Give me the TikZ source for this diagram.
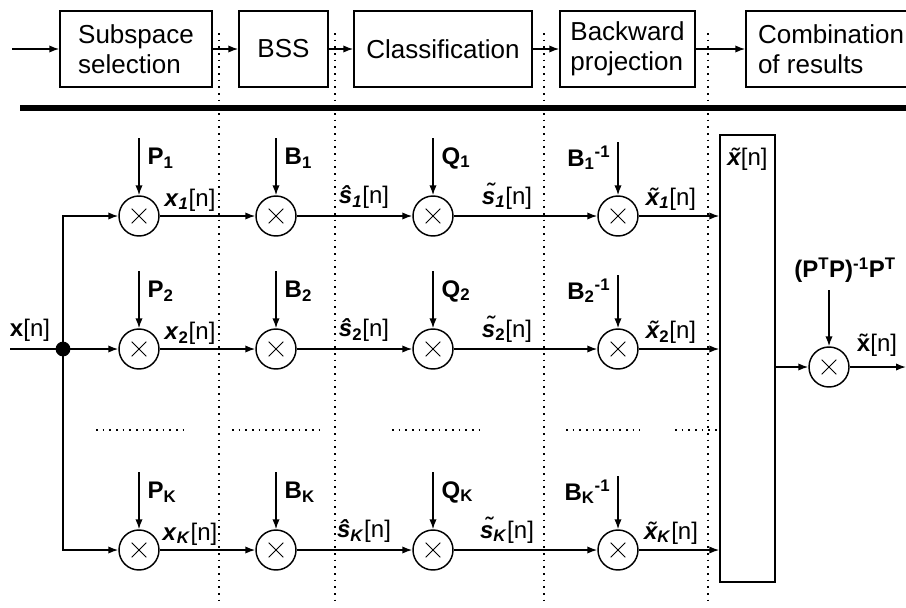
\documentclass[tikz,border=0pt]{standalone}
\usepackage{fontspec}
\setmainfont{Liberation Sans}
\usetikzlibrary{arrows.meta}

\newcommand\boxfont{\fontsize{19.5}{22.5}\selectfont}
\newcommand\lblfont{\fontsize{18}{20}\selectfont}

\tikzset{
  mult/.style={draw,circle,minimum size=30pt,inner sep=0pt,
    path picture={\draw[line width=0.7pt,shift={(path picture bounding box.center)}]
      (-5.5pt,-5.5pt) -- (5.5pt,5.5pt) (-5.5pt,5.5pt) -- (5.5pt,-5.5pt);}},
  blk/.style={draw,rectangle,minimum height=57pt,inner sep=0pt,align=left,font=\boxfont},
  sig/.style={-{Latex[length=7.5pt,width=5.5pt]}},
  divider/.style={line width=1.25pt,dash pattern=on 1.2pt off 3.8pt},
  lbl/.style={font=\lblfont,inner sep=0pt},
}

\begin{document}
\begin{tikzpicture}[x=0.75pt,y=-0.75pt,line width=1.1pt]
  \useasboundingbox (0,0) rectangle (906,607);
  \clip (0,0) rectangle (906,607);

  % processing stages
  \coordinate (start) at (12,49);
  \node[blk,minimum width=114pt] (sub) at (136,49) {Subspace\\selection};
  \node[blk,minimum width=66.75pt] (bss) at (283.5,49) {BSS};
  \node[blk,minimum width=133.5pt] (cls) at (443,49) {Classification};
  \node[blk,minimum width=101.25pt] (bwd) at (627.5,49) {Backward\\projection};
  \node[blk,minimum width=127.5pt] (comb) at (831,49) {Combination\\of results};
  \draw[sig] (start) -- (sub);
  \draw[sig] (sub) -- (bss);
  \draw[sig] (bss) -- (cls);
  \draw[sig] (cls) -- (bwd);
  \draw[sig] (bwd) -- (comb);

  \draw[line width=4pt] (20,108) -- (906,108);
  \foreach \x in {219,335,544,708}
    \draw[divider] (\x,33) -- (\x,605);

  % branches
  \node[draw,rectangle,minimum width=41.25pt,minimum height=335.25pt,inner sep=0pt] (sumbox) at (747.5,358.5) {};
  \node[lbl,below=10pt] at (sumbox.north) {\textbf{\textit{\~{x}}}[n]};

  \foreach \r/\y/\n/\i in {1/216/1/\textit{1},2/349/2/2,K/550/K/\textit{K}}{
    \node[mult] (p\r) at (139,\y) {};
    \node[mult] (b\r) at (276,\y) {};
    \node[mult] (q\r) at (433,\y) {};
    \node[mult] (r\r) at (618,\y) {};
    \coordinate (pin\r) at (139,\y-78);
    \coordinate (bin\r) at (276,\y-78);
    \coordinate (qin\r) at (433,\y-78);
    \coordinate (rin\r) at (618,\y-74);
    \node[lbl,anchor=west] at (147,\y-58) {\textbf{P\textsubscript{\n}}};
    \node[lbl,anchor=west] at (284,\y-58) {\textbf{B\textsubscript{\n}}};
    \node[lbl,anchor=west] at (441,\y-58) {\textbf{Q\textsubscript{\n}}};
    \node[lbl,anchor=east] at (611,\y-58) {\textbf{B\textsubscript{\n}\textsuperscript{-1}}};
    \node[lbl] at (190,\y-16) {\textbf{\textit{x}\textsubscript{\i}}[n]};
    \node[lbl] at (364,\y-19) {\textbf{\textit{\^{s}}\textsubscript{\i}}[n]};
    \node[lbl] at (507,\y-20) {\textbf{\textit{\~{s}}\textsubscript{\i}}[n]};
    \node[lbl] at (671,\y-17) {\textbf{\textit{\~{x}}\textsubscript{\i}}[n]};
    \draw[sig] (pin\r) -- (p\r);
    \draw[sig] (bin\r) -- (b\r);
    \draw[sig] (qin\r) -- (q\r);
    \draw[sig] (rin\r) -- (r\r);
    \draw[sig] (p\r) -- (b\r);
    \draw[sig] (b\r) -- (q\r);
    \draw[sig] (q\r) -- (r\r);
    \draw[sig] (r\r) -- (r\r -| sumbox.west);
  }

  \coordinate (in) at (10,349);
  \node[draw,circle,fill,minimum size=10pt,inner sep=0pt] (split) at (63,349) {};
  \node[lbl] at (30,330) {\textbf{x}[n]};
  \draw (in) -- (split);
  \draw[sig] (split) -- (p2);
  \draw[sig] (split) |- (p1);
  \draw[sig] (split) |- (pK);

  % omitted branches
  \draw[divider] (96,430) -- (187,430);
  \draw[divider] (232,430) -- (323,430);
  \draw[divider] (392,430) -- (482,430);
  \draw[divider] (566,430) -- (640,430);
  \draw[divider] (675,430) -- (720,430);

  % final projection
  \node[mult] (fin) at (829,367) {};
  \coordinate (ptop) at (829,290);
  \coordinate (out) at (906,367);
  \node[lbl] at (845,270) {\textbf{(P\textsuperscript{T}P)\textsuperscript{-1}P\textsuperscript{T}}};
  \node[lbl] at (877,345) {\textbf{\~{x}}[n]};
  \draw[sig] (fin -| sumbox.east) -- (fin);
  \draw[sig] (ptop) -- (fin);
  \draw[sig] (fin) -- (out);
\end{tikzpicture}
\end{document}
